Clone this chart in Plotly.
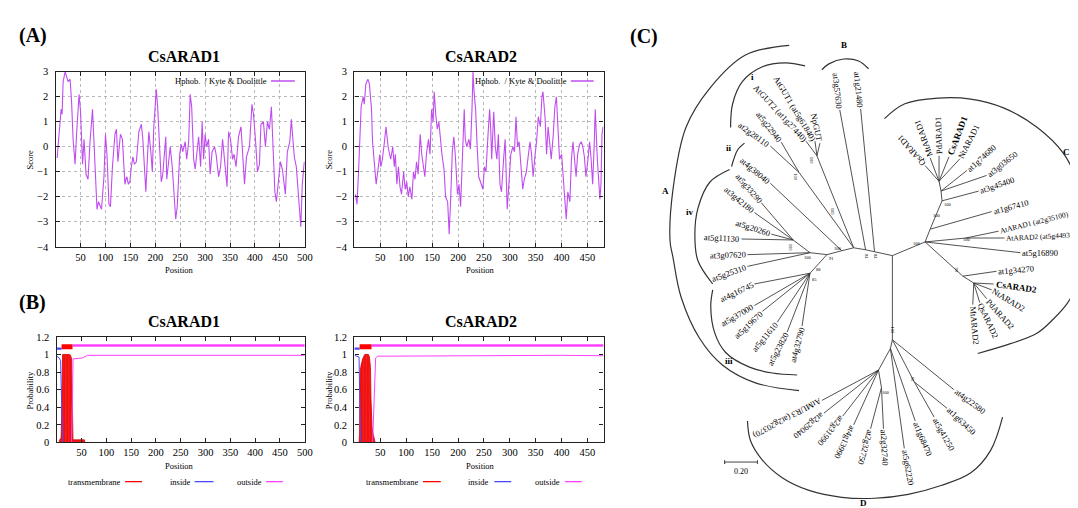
import math
import plotly.graph_objects as go

# ======================= DATA =======================
# (A) Kyte & Doolittle hydropathy: (position, score)
hydro_CsARAD1 = [(3,-0.45),(6,0.3),(9,1.05),(11,1.5),(13,1.3),(15,2.6),(19,3.0),(22,2.8),(25,2.6),(29,2.7),(32,1.8),(35,0.3),(39,-0.7),(42,0.5),(45,1.8),(47,2.1),(50,1.4),(54,-0.7),(57,0.3),(61,-1.1),(65,-1.3),(69,0.2),(74,1.5),(77,0.0),(81,-1.5),(83,-2.5),(86,-2.2),(89,-2.4),(92,-2.5),(97,-1.2),(100,0.5),(103,-0.3),(107,-2.3),(110,-2.4),(114,-0.8),(119,0.5),(122,0.7),(125,-0.6),(130,0.5),(134,0.3),(139,-1.5),(141,-1.3),(143,-1.2),(146,-1.5),(149,-1.4),(152,-0.8),(155,-0.4),(158,-0.7),(162,-0.6),(167,0.6),(172,0.9),(175,0.3),(181,-1.8),(184,-0.5),(187,0.6),(191,-0.2),(194,-1.0),(197,0.8),(202,2.3),(205,1.5),(209,-0.2),(212,-1.4),(215,-1.1),(218,-0.5),(221,0.4),(223,-1.3),(227,-0.4),(230,0.0),(234,-0.8),(237,-1.8),(241,-2.9),(244,-2.4),(249,-0.3),(252,0.1),(255,-0.2),(260,0.2),(263,-0.5),(267,0.2),(270,2.1),(273,1.6),(277,-0.5),(280,-0.9),(283,-0.3),(287,0.4),(291,-0.8),(294,1.0),(297,-0.5),(300,0.5),(303,0.0),(307,0.3),(310,-1.1),(314,-0.2),(319,0.0),(322,-0.3),(327,-1.2),(331,-0.8),(335,0.3),(339,-0.5),(344,-1.6),(347,0.6),(351,0.3),(355,-0.5),(358,-0.3),(362,-0.8),(367,0.4),(372,0.8),(377,-0.8),(379,-1.5),(383,-0.4),(389,0.0),(394,1.7),(397,1.3),(401,0.3),(405,-1.0),(409,-0.7),(412,0.9),(417,1.0),(421,0.0),(425,1.0),(429,0.7),(433,1.6),(437,-0.3),(440,-1.8),(443,-2.2),(447,-1.5),(451,-0.6),(455,-0.9),(458,-1.4),(461,-1.9),(465,-0.2),(470,0.2),(473,1.1),(476,0.2),(479,-0.4),(483,-0.8),(486,-1.6),(489,-2.1),(492,-3.2),(495,-1.5),(499,-0.6)]
hydro_CsARAD2 = [(2,-1.9),(5,-2.3),(8,-1.0),(13,1.6),(17,2.0),(19,1.7),(22,2.5),(26,2.7),(29,2.5),(33,1.5),(35,0.2),(39,-0.7),(42,-1.5),(45,-1.0),(49,-0.3),(51,-0.8),(54,-0.5),(58,0.2),(61,0.8),(65,0.0),(67,-0.2),(70,-0.5),(74,0.0),(77,-0.8),(79,-0.3),(82,-1.5),(85,-0.8),(88,-1.6),(91,-1.9),(95,-1.0),(98,-1.7),(101,-1.4),(104,-2.0),(107,-1.6),(111,-2.1),(114,-1.0),(117,-1.3),(120,-0.6),(123,-1.1),(127,0.5),(130,-0.3),(133,-0.7),(136,-1.2),(139,-0.3),(143,0.3),(146,-0.3),(149,1.5),(152,1.0),(154,2.2),(157,1.3),(160,0.7),(163,1.0),(166,0.3),(169,-0.3),(173,-0.9),(176,-2.0),(180,-2.2),(183,-3.5),(186,-2.0),(189,-0.2),(192,0.4),(195,-0.4),(199,-1.9),(202,-1.5),(205,-2.4),(208,-0.5),(212,1.5),(214,0.3),(217,0.0),(221,0.3),(224,-0.1),(227,1.5),(229,3.0),(231,2.2),(234,1.5),(237,0.0),(240,-1.2),(245,-1.5),(248,-1.7),(251,-0.8),(254,-1.0),(258,0.5),(261,1.5),(263,0.8),(265,-0.5),(269,1.4),(272,0.0),(275,-0.5),(278,0.5),(281,-1.5),(284,-1.8),(288,-0.5),(291,0.3),(295,-2.5),(298,-1.5),(302,-0.3),(306,0.0),(309,-0.2),(312,1.2),(315,0.0),(318,0.2),(322,-1.0),(325,-1.7),(328,-1.3),(332,-1.0),(336,-0.3),(339,0.2),(342,-0.3),(345,-1.2),(348,-0.5),(352,0.3),(355,1.2),(359,0.8),(362,2.0),(364,2.2),(368,1.2),(371,-0.3),(374,0.8),(377,0.0),(380,-0.5),(384,0.5),(387,1.6),(390,2.0),(393,0.5),(396,-0.5),(400,-0.3),(403,-1.2),(406,-2.0),(409,-2.9),(412,-1.8),(416,-2.2),(419,-0.5),(422,0.2),(425,-0.5),(428,-1.2),(431,-0.3),(435,0.1),(438,0.2),(441,0.0),(444,-0.4),(447,-1.2),(451,-0.5),(454,0.2),(457,-0.5),(460,-1.5),(463,0.1),(465,1.5),(469,-0.5),(472,-1.5),(474,-2.1),(476,-1.5),(478,0.5),(480,0.8)]
length_CsARAD1 = 500
length_CsARAD2 = 481
score_ticks = [-4, -3, -2, -1, 0, 1, 2, 3]
pos_ticks_1 = [50, 100, 150, 200, 250, 300, 350, 400, 450, 500]
pos_ticks_2 = [50, 100, 150, 200, 250, 300, 350, 400, 450]
prob_ticks = [0, 0.2, 0.4, 0.6, 0.8, 1.0, 1.2]
prob_ticktext = ["0", "0.2", "0.4", "0.6", "0.8", "1", "1.2"]

# (B) TMHMM posterior probabilities: (position, probability)
tm_CsARAD1 = [(0,0),(5,0),(6,0.03),(9,0.05),(10,0.3),(11,0.9),(12,1.0),(26,1.0),(28,0.99),(30,0.95),(31,0.6),(32,0.2),(33,0.03),(56,0.03),(57,0),(500,0)]
inside_CsARAD1 = [(0,0.98),(5,0.96),(8,0.93),(10,0.5),(11,0.05),(12,0),(500,0)]
outside_CsARAD1 = [(0,0),(30,0),(32,0.5),(33,0.95),(52,0.96),(58,0.98),(62,0.99),(500,0.99)]
tm_CsARAD2 = [(0,0),(9,0),(10,0.1),(11,0.8),(13,0.88),(16,0.95),(20,1.0),(27,1.0),(29,0.97),(31,0.85),(32,0.5),(33,0.25),(34,0.18),(36,0.1),(38,0.05),(40,0),(481,0)]
inside_CsARAD2 = [(0,0.99),(9,0.97),(10,0.6),(11,0.1),(12,0),(481,0)]
outside_CsARAD2 = [(0,0),(35,0),(37,0.3),(39,0.8),(41,0.96),(45,0.98),(150,0.985),(160,0.98),(250,0.99),(400,0.99),(481,0.985)]
topo_CsARAD1 = {"inside": (0, 10), "transmembrane": (10, 32), "outside": (32, 500)}
topo_CsARAD2 = {"inside": (0, 10), "transmembrane": (10, 33), "outside": (33, 481)}
topo_level = {"inside": 1.067, "transmembrane": 1.088, "outside": 1.102}

# (C) Phylogenetic tree (layout units = figure pixels)
node_names  = ["R","b1","b2","b3","Ab","A0","i1","i2","iv1","iv2","iii","C0","Cu1","Cu2","Cu3","Cu4","Cat","C2a","C2b","D0","D1","D2","D3","D4"]
node_x      = [891,873,864,852,840,825,797,815,791,808,808,924,929,941,940,938,965,962,973,891,889,877,880,913]
node_y      = [248,244,242,240,243,247,163,146,232,245,266,234,221,192,182,172,230,269,276,334,343,365,383,377]
node_parent = [None,"R","b1","b2","b3","Ab","b3","b3","iv2","A0","A0","R","C0","Cu1","Cu2","Cu3","C0","C0","C2a","R","D0","D1","D2","D0"]

leaf_labels = ["at2g28110","at5g22940","AtGUT2 (at1g27440)","AtGUT1 (at5g61840)","NpGUT","at4g38040",
               "at5g33290","at3g42180","at5g20260","at5g11130","at3g07620","at5g25310",
               "at4g16745","at5g37000","at5g19670","at5g11610","at5g23820","at4g32790",
               "at3g57630","at1g21480",
               "QsARAD1","MtARAD1","PdARAD1","CsARAD1","NtARAD1","at1g74680","at3g03650","at3g45400","at1g67410",
               "AtARAD1 (at2g35100)","AtARAD2 (at5g44930)","at5g16890","at1g34270",
               "CsARAD2","NtARAD2","PdARAD2","QsARAD2","MtARAD2",
               "AtMUR3 (at2g20370)","at2g29040","at2g31990","at4g13990","at2g32750","at2g32740",
               "at5g62220","at1g68470","at5g41250","at1g63450","at4g22580"]
leaf_x = [768,779,804,813,818,768, 759,752,769,739,745,745, 752,752,760,775,785,800, 838,859,
          924,929,938,948,959,966,986,978,991, 998,1004,1020,996, 993,991,986,979,972,
          820,822,841,852,869,882, 903,914,933,946,953]
leaf_y = [136,132,131,131,133,174, 194,204,226,231,247,259, 277,299,305,316,326,320, 99,98,
          156,148,146,147,149,161,166,182,203, 223,230,245,264, 277,283,292,296,298,
          396,409,412,421,425,425, 445,417,413,404,385]
leaf_parent = ["i1","i1","i2","i2","i2","Ab", "iv1","iv1","iv1","iv1","iv2","iv2",
               "iii","iii","iii","iii","iii","iii", "b2","b1",
               "Cu4","Cu4","Cu4","Cu4","Cu4","Cu3","Cu3","Cu2","Cu1", "Cat","Cat","C0","C2a",
               "C2b","C2b","C2b","C2b","C2b",
               "D2","D2","D2","D2","D3","D3", "D1","D1","D4","D4","D0"]
leaf_angle = [36,52,47,59,78,40, 49,40,18,3,-2,-20, -25,-30,-43,-50,-62,-75, 84,85,
              -131,-110,-92,-69,-63,-42,-38,-19,-15, -14,-3,0,-5, 8,31,48,65,85,
              152,141,129,117,106,87, 80,67,61,43,37]
leaf_side = ["L"]*20 + ["R"]*29
leaf_bold = ["CsARAD1", "CsARAD2"]
leaf_small = ["AtARAD1 (at2g35100)", "AtARAD2 (at5g44930)"]

bootstrap_text  = ["100","91","100","100","100","100","100","88","85","84","84","100","100","100","99","100","100","100","99"]
bootstrap_x     = [836,830,831,794,809,788,806,817,813,865,874,916,936,947,956,966,891,885,911]
bootstrap_y     = [241,251,203,168,151,240,250,262,272,249,249,236,207,196,263,232,325,388,374]
bootstrap_angle = [0,0,90,90,90,90,0,0,0,90,90,0,0,0,90,0,90,0,90]

bracket_names = ["A","i","ii","iv","iii","B","C","D"]
bracket_x = [[787,743,707,683,670,667,670,678,697,720,753,797],
             [803,783,760,740,730,728],
             [742,735,731,729],
             [727,707,695,692,695,710],
             [710,708,712,723,747,770,795],
             [820,827,842,857,867],
             [883,903,937,970,1003,1037,1063,1078,1086,1088,1086,1078,1067,1053,1037,1010,977],
             [745,748,760,780,807,840,873,907,940,970,990,1002]]
bracket_y = [[33,43,77,117,180,233,250,290,333,360,378,386],
             [54,51,55,70,93,117],
             [133,140,150,157],
             [160,173,200,227,253,277],
             [283,300,327,347,362,368,370],
             [58,52,47,49,57],
             [108,93,87,88,97,117,143,173,205,230,255,277,297,313,327,338,348],
             [417,437,457,475,488,495,496,492,483,470,447,413]]
clade_label_x = [662,750,726,687,726,842,1066,862]
clade_label_y = [182,65,138,203,356,33,142,501]
scale_bar_value = "0.20"

# ======================= STYLE / LAYOUT =======================
W, H = 1078, 508
SERIF = "Liberation Serif"
PURPLE = "#c04cf0"
RED = "#ff0000"
BLUE = "#4848ff"
PINK = "#ff40ff"
TREE = "#333333"

def fx(px): return px / W
def fy(py): return 1 - py / H

fig = go.Figure()
annotations = []
shapes = []

def ann(text, x, y, size, bold=False, angle=0, xanchor="center", yanchor="middle", ref="paper"):
    if bold:
        text = "<b>" + text + "</b>"
    if ref == "paper":
        xx, yy, xr, yr = fx(x), fy(y), "paper", "paper"
    else:
        xx, yy, xr, yr = x, y, "x5", "y5"
    annotations.append(dict(text=text, x=xx, y=yy, xref=xr, yref=yr, showarrow=False,
                            textangle=angle, xanchor=xanchor, yanchor=yanchor,
                            font=dict(family=SERIF, size=size, color="black"), borderpad=0))

def frame_axis(**kw):
    d = dict(showline=True, linecolor="#222", linewidth=1.4, mirror="allticks",
             ticks="inside", ticklen=4, tickwidth=1, tickcolor="#222",
             tickfont=dict(family=SERIF, size=10.5, color="black"),
             zeroline=False, showgrid=False, fixedrange=True)
    d.update(kw)
    return d

# ---- panel (A)
A_boxes = [(48, 299, length_CsARAD1, pos_ticks_1, hydro_CsARAD1), (349, 600, length_CsARAD2, pos_ticks_2, hydro_CsARAD2)]
layout_axes = {}
for k, (x0, x1, L, pt, data) in enumerate(A_boxes):
    xa = "xaxis" if k == 0 else "xaxis2"
    ya = "yaxis" if k == 0 else "yaxis2"
    xr = "x" if k == 0 else "x2"
    yr = "y" if k == 0 else "y2"
    layout_axes[xa] = frame_axis(domain=[fx(x0), fx(x1)], range=[0, L], tickvals=pt, anchor=yr,
                                 showgrid=True, gridcolor="#b8b8b8", griddash="dot", gridwidth=0.8)
    layout_axes[ya] = frame_axis(domain=[fy(239), fy(60)], range=[-4, 3], tickvals=score_ticks, anchor=xr,
                                 showgrid=True, gridcolor="#b8b8b8", griddash="dot", gridwidth=0.8,
                                 ticklabelstandoff=4)
    fig.add_trace(go.Scatter(x=[p for p, _ in data], y=[v for _, v in data], mode="lines",
                             line=dict(color=PURPLE, width=1.1), xaxis=xr, yaxis=yr,
                             showlegend=False, hoverinfo="skip"))

# ---- panel (B)
B_sets = [(49, 299, length_CsARAD1, pos_ticks_1, tm_CsARAD1, inside_CsARAD1, outside_CsARAD1, topo_CsARAD1),
          (349, 600, length_CsARAD2, pos_ticks_2, tm_CsARAD2, inside_CsARAD2, outside_CsARAD2, topo_CsARAD2)]
for k, (x0, x1, L, pt, tm, ins, outs, topo) in enumerate(B_sets):
    n = 3 + k
    xa, ya, xr, yr = f"xaxis{n}", f"yaxis{n}", f"x{n}", f"y{n}"
    layout_axes[xa] = frame_axis(domain=[fx(x0), fx(x1)], range=[0, L], tickvals=pt, anchor=yr)
    layout_axes[ya] = frame_axis(domain=[fy(439), fy(331)], range=[0, 1.2], tickvals=prob_ticks,
                                 ticktext=prob_ticktext, anchor=xr, ticklabelstandoff=4)
    fig.add_trace(go.Scatter(x=[p for p, _ in tm], y=[v for _, v in tm], mode="lines", fill="tozeroy",
                             fillcolor=RED, line=dict(color="#d00000", width=0.8),
                             fillpattern=dict(shape="|", fgcolor="#b00000", bgcolor="#ff1a1a", size=3, solidity=0.3),
                             xaxis=xr, yaxis=yr, showlegend=False, hoverinfo="skip"))
    fig.add_trace(go.Scatter(x=[p for p, _ in ins], y=[v for _, v in ins], mode="lines",
                             line=dict(color=BLUE, width=1), xaxis=xr, yaxis=yr, showlegend=False, hoverinfo="skip"))
    fig.add_trace(go.Scatter(x=[p for p, _ in outs], y=[v for _, v in outs], mode="lines",
                             line=dict(color=PINK, width=1), xaxis=xr, yaxis=yr, showlegend=False, hoverinfo="skip"))
    for part, col, wdt in [("outside", PINK, 2.6), ("inside", BLUE, 2.2), ("transmembrane", RED, 5)]:
        a, b = topo[part]
        lv = topo_level[part]
        fig.add_trace(go.Scatter(x=[a, b], y=[lv, lv], mode="lines", line=dict(color=col, width=wdt),
                                 xaxis=xr, yaxis=yr, showlegend=False, hoverinfo="skip"))

# ---- titles / labels for A & B
ann("(A)", 25, 23, 20, bold=True)
ann("(B)", 25, 296, 20, bold=True)
ann("(C)", 641, 24, 20, bold=True)
for cx, name in [(177, "CsARAD1"), (477, "CsARAD2")]:
    ann(name, cx, 44, 16, bold=True)
    ann(name, cx, 315, 16, bold=True)
for sx, pc in [(22, 173), (323, 476)]:
    ann("Score", sx, 150, 8.5, angle=-90)
    ann("Probability", sx, 385, 8.5, angle=-90)
    ann("Position", pc, 263, 8.5)
    ann("Position", pc, 463, 8.5)

# hydropathy legends
for tx, l0, l1 in [(262, 265, 289), (564, 567, 590)]:
    ann("Hphob.  / Kyte &amp; Doolittle", tx, 69.5, 8.5, xanchor="right")
    shapes.append(dict(type="line", xref="paper", yref="paper", x0=fx(l0), x1=fx(l1), y0=fy(69.5), y1=fy(69.5),
                       line=dict(color=PURPLE, width=1.5)))
# TMHMM legends
leg_items = [[("transmembrane", 115, 118, 135, RED), ("inside", 185, 188, 207, BLUE), ("outside", 257, 260, 277, PINK)],
             [("transmembrane", 415, 418, 436, RED), ("inside", 486, 490, 507, BLUE), ("outside", 557, 561, 578, PINK)]]
for items in leg_items:
    for txt, tx, l0, l1, col in items:
        ann(txt, tx, 479, 8.5, xanchor="right")
        shapes.append(dict(type="line", xref="paper", yref="paper", x0=fx(l0), x1=fx(l1), y0=fy(479), y1=fy(479),
                           line=dict(color=col, width=1.3)))

# ---- panel (C) tree
layout_axes["xaxis5"] = dict(domain=[fx(620), 1], range=[620, 1078], visible=False, anchor="y5", fixedrange=True)
layout_axes["yaxis5"] = dict(domain=[0, 1], range=[508, 0], visible=False, anchor="x5", fixedrange=True)
pos = {nm: (x, y) for nm, x, y in zip(node_names, node_x, node_y)}
ex, ey = [], []
for nm, par in zip(node_names, node_parent):
    if par is None:
        continue
    ex += [pos[par][0], pos[nm][0], None]
    ey += [pos[par][1], pos[nm][1], None]
for lx, ly, par in zip(leaf_x, leaf_y, leaf_parent):
    ex += [pos[par][0], lx, None]
    ey += [pos[par][1], ly, None]
fig.add_trace(go.Scatter(x=ex, y=ey, mode="lines", line=dict(color=TREE, width=0.85),
                         xaxis="x5", yaxis="y5", showlegend=False, hoverinfo="skip"))

CW = {c: 0.5 for c in "0123456789g"}
CW.update({"a": 0.444, "t": 0.278, "s": 0.389, "d": 0.5, "A": 0.722, "G": 0.722, "U": 0.722, "T": 0.611,
           "R": 0.667, "D": 0.722, "M": 0.889, "N": 0.722, "Q": 0.722, "C": 0.667, "P": 0.556,
           "(": 0.333, ")": 0.333, " ": 0.25, "p": 0.5})
def text_w(s, size, bold=False):
    return sum(CW.get(c, 0.5) for c in s) * size * (1.08 if bold else 1.0)

LEAF_SIZE = 8.5
for lab, lx, ly, ang, side in zip(leaf_labels, leaf_x, leaf_y, leaf_angle, leaf_side):
    bold = lab in leaf_bold
    size = 9 if bold else (7.4 if lab in leaf_small else LEAF_SIZE)
    d = 1.8 + text_w(lab, size, bold) / 2
    th = math.radians(ang)
    sgn = 1 if side == "R" else -1
    cx = lx + sgn * d * math.cos(th)
    cy = ly + sgn * d * math.sin(th)
    ann(lab, cx, cy, size, bold=bold, angle=ang, ref="tree")

for t, bx, by, ba in zip(bootstrap_text, bootstrap_x, bootstrap_y, bootstrap_angle):
    ann(t, bx, by, 4.5, angle=ba, ref="tree")

for bxs, bys in zip(bracket_x, bracket_y):
    fig.add_trace(go.Scatter(x=bxs, y=bys, mode="lines", line=dict(color="#333", width=1.2, shape="spline", smoothing=1),
                             xaxis="x5", yaxis="y5", showlegend=False, hoverinfo="skip"))
for nm, cx, cy in zip(bracket_names, clade_label_x, clade_label_y):
    ann(nm, cx, cy, 9, bold=True, ref="tree")

# scale bar
fig.add_trace(go.Scatter(x=[722, 722, 722, None, 722, 755, None, 755, 755], y=[457, 461, 459, None, 459, 459, None, 457, 461],
                         mode="lines", line=dict(color="#444", width=1), xaxis="x5", yaxis="y5",
                         showlegend=False, hoverinfo="skip"))
ann(scale_bar_value, 738, 469, 8, ref="tree")

fig.update_layout(width=W, height=H, margin=dict(l=0, r=0, t=0, b=0), paper_bgcolor="white",
                  plot_bgcolor="white", showlegend=False, annotations=annotations, shapes=shapes,
                  font=dict(family=SERIF, color="black"), **layout_axes)
fig.write_html("out.html")
